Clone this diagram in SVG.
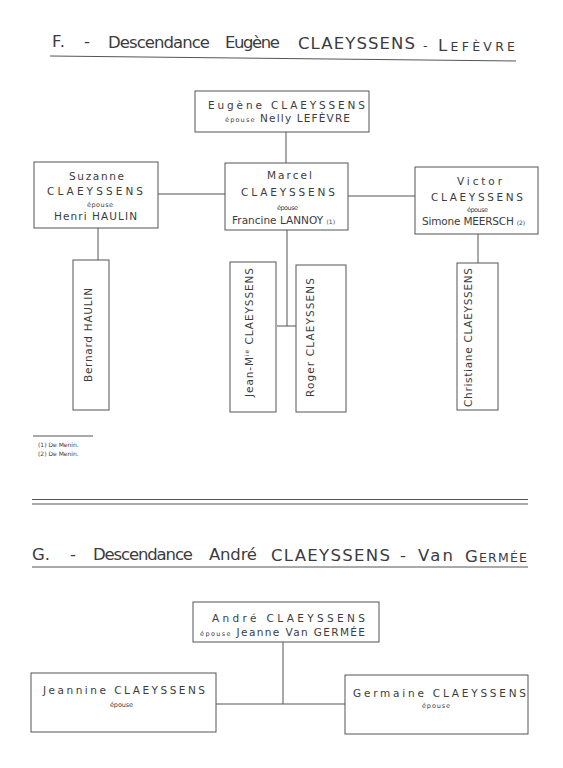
<svg xmlns="http://www.w3.org/2000/svg" width="563" height="768" viewBox="0 0 563 768">
<style>
text{font-family:"DejaVu Sans","Liberation Sans",sans-serif;fill:#3c3c3c}
.t{font-size:16.5px}
.sc{font-size:12.5px}
.n{font-size:10.5px}
.s{font-size:6.5px}
.f{font-size:6px}
.box{fill:none;stroke:#555;stroke-width:1}
.ln{fill:none;stroke:#555;stroke-width:1}
</style>
<rect width="563" height="768" fill="#fff"/>

<g id="titleF">
<text class="t" x="52" y="47" textLength="13">F.</text>
<text class="t" x="84" y="47">-</text>
<text class="t" x="108" y="48" textLength="102">Descendance</text>
<text class="t" x="225" y="48" textLength="55">Eugène</text>
<text class="t" x="298" y="49" textLength="117">CLAEYSSENS</text>
<text class="sc" x="423" y="50">-</text>
<text x="438" y="51" textLength="77"><tspan class="t">L</tspan><tspan class="sc">EFÈVRE</tspan></text>
<path class="ln" d="M50 56 L516 61" stroke-width="1.5"/>
</g>

<g id="connectorsF">
<path class="ln" d="M286 132 V163"/>
<path class="ln" d="M158 194 H225"/>
<path class="ln" d="M348 196 H415"/>
<path class="ln" d="M98 228 V260"/>
<path class="ln" d="M287 230 V326 M277 326 H296"/>
<path class="ln" d="M478 234 V263"/>
</g>

<g id="eugene">
<rect class="box" x="195" y="91" width="174" height="41"/>
<text class="n" x="208" y="109" textLength="157">Eugène CLAEYSSENS</text>
<text x="225" y="122" textLength="125"><tspan class="s">épouse</tspan><tspan class="n"> Nelly LEFÈVRE</tspan></text>
</g>

<g id="suzanne">
<rect class="box" x="34" y="162" width="124" height="66"/>
<text class="n" x="69" y="180" textLength="55">Suzanne</text>
<text class="n" x="47" y="195" textLength="96">CLAEYSSENS</text>
<text class="s" x="87" y="207" textLength="26">épouse</text>
<text class="n" x="54" y="220" textLength="83">Henri HAULIN</text>
</g>

<g id="marcel">
<rect class="box" x="225" y="163" width="123" height="67"/>
<text class="n" x="267" y="179" textLength="45">Marcel</text>
<text class="n" x="241" y="196" textLength="94">CLAEYSSENS</text>
<text class="s" x="277" y="210" textLength="21">épouse</text>
<text x="232" y="224" textLength="103"><tspan class="n">Francine LANNOY </tspan><tspan class="f">(1)</tspan></text>
</g>

<g id="victor">
<rect class="box" x="415" y="167" width="123" height="67"/>
<text class="n" x="457" y="185" textLength="45">Victor</text>
<text class="n" x="431" y="201" textLength="92">CLAEYSSENS</text>
<text class="s" x="467" y="212" textLength="21">épouse</text>
<text x="422" y="225" textLength="103"><tspan class="n">Simone MEERSCH </tspan><tspan class="f">(2)</tspan></text>
</g>

<g id="bernard">
<rect class="box" x="73" y="260" width="36" height="150"/>
<text class="n" transform="translate(92 382) rotate(-90)" textLength="94">Bernard HAULIN</text>
</g>

<g id="jean">
<rect class="box" x="230" y="262" width="46" height="150"/>
<text class="n" transform="translate(253 397) rotate(-90)" textLength="129">Jean-M<tspan font-size="6" dy="-4">ie</tspan><tspan dy="4"> CLAEYSSENS</tspan></text>
</g>

<g id="roger">
<rect class="box" x="296" y="265" width="50" height="147"/>
<text class="n" transform="translate(314 397) rotate(-90)" textLength="119">Roger CLAEYSSENS</text>
</g>

<g id="christiane">
<rect class="box" x="457" y="263" width="41" height="147"/>
<text class="n" transform="translate(472 407) rotate(-90)" textLength="139">Christiane CLAEYSSENS</text>
</g>

<g id="footnotes">
<path class="ln" d="M33 436 H93"/>
<text class="f" x="38" y="447">(1) De Menin.</text>
<text class="f" x="38" y="456">(2) De Menin.</text>
</g>

<g id="separator">
<path class="ln" d="M32 499.5 H528" stroke="#888" stroke-width="2.5"/>
<path class="ln" d="M32 504 H528" stroke="#777"/>
</g>

<g id="titleG">
<text class="t" x="32" y="560" textLength="18">G.</text>
<text class="t" x="70" y="560">-</text>
<text class="t" x="93" y="560" textLength="100">Descendance</text>
<text class="t" x="209" y="560" textLength="48">André</text>
<text class="t" x="271" y="561" textLength="119">CLAEYSSENS</text>
<text class="t" x="400" y="561">-</text>
<text class="t" x="418" y="561" textLength="35">Van</text>
<text x="465" y="562" textLength="62"><tspan class="t">G</tspan><tspan class="sc">ERMÉE</tspan></text>
<path class="ln" d="M32 567 H528" stroke-width="1.5"/>
</g>

<g id="connectorsG">
<path class="ln" d="M283 642 V704 M216 704 H345"/>
</g>

<g id="andre">
<rect class="box" x="193" y="602" width="186" height="40"/>
<text class="n" x="212" y="622" textLength="153">André CLAEYSSENS</text>
<text x="200" y="636" textLength="165"><tspan class="s">épouse</tspan><tspan class="n"> Jeanne Van GERMÉE</tspan></text>
</g>

<g id="jeannine">
<rect class="box" x="31" y="673" width="185" height="59"/>
<text class="n" x="43" y="694" textLength="162">Jeannine CLAEYSSENS</text>
<text class="s" x="110" y="707" textLength="23">épouse</text>
</g>

<g id="germaine">
<rect class="box" x="345" y="675" width="183" height="59"/>
<text class="n" x="353" y="697" textLength="173">Germaine CLAEYSSENS</text>
<text class="s" x="422" y="708" textLength="28">épouse</text>
</g>
</svg>
